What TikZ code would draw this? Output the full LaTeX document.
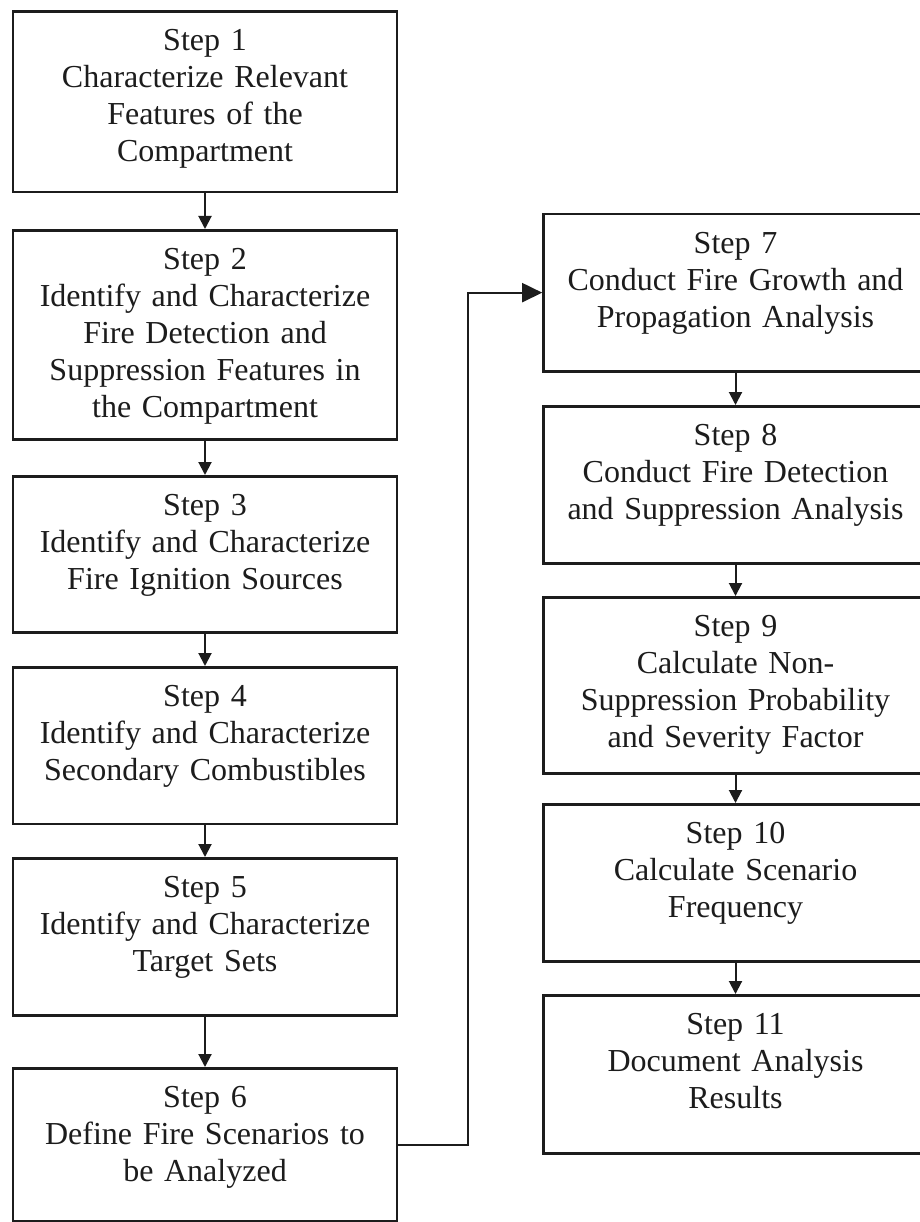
\documentclass[tikz,border=0pt]{standalone}
\usepackage{fontspec}
\setmainfont{Liberation Serif}
\usetikzlibrary{arrows.meta}
\definecolor{ink}{HTML}{1C1C1C}
\begin{document}
\begin{tikzpicture}[x=1pt, y=-1pt,
  stepbox/.style={draw=ink, line width=2.6pt, fill=white, text=ink,
    anchor=north, inner xsep=7pt, inner ysep=0pt, text width=370pt,
    align=center, text height=39.5pt,
    font=\fontsize{32}{37}\selectfont},
  flow/.style={draw=ink, line width=2pt, -{Triangle[length=13pt,width=13pt]}},
  bigflow/.style={draw=ink, line width=2pt, -{Triangle[length=20pt,width=19pt]}}]
  \useasboundingbox[fill=white] (0,0) rectangle (919,1222);

  % left column: steps 1 to 6
  \node[stepbox, text depth=141.2pt] (s1) at (205,10)
    {Step 1\\Characterize Relevant\\Features of the\\Compartment};
  \node[stepbox, text depth=169.5pt] (s2) at (205,229)
    {Step 2\\Identify and Characterize\\Fire Detection and\\Suppression Features in\\the Compartment};
  \node[stepbox, text depth=116.5pt] (s3) at (205,475)
    {Step 3\\Identify and Characterize\\Fire Ignition Sources};
  \node[stepbox, text depth=117.2pt] (s4) at (205,666)
    {Step 4\\Identify and Characterize\\Secondary Combustibles};
  \node[stepbox, text depth=117.5pt] (s5) at (205,857)
    {Step 5\\Identify and Characterize\\Target Sets};
  \node[stepbox, text depth=113.5pt] (s6) at (205,1067)
    {Step 6\\Define Fire Scenarios to\\be Analyzed};

  % right column: steps 7 to 11
  \node[stepbox, text depth=117.8pt] (s7) at (735.5,212.7)
    {Step 7\\Conduct Fire Growth and\\Propagation Analysis};
  \node[stepbox, text depth=117.5pt] (s8) at (735.5,405)
    {Step 8\\Conduct Fire Detection\\and Suppression Analysis};
  \node[stepbox, text depth=136.5pt] (s9) at (735.5,596)
    {Step 9\\Calculate Non-\\Suppression Probability\\and Severity Factor};
  \node[stepbox, text depth=117.5pt] (s10) at (735.5,803)
    {Step 10\\Calculate Scenario\\Frequency};
  \node[stepbox, text depth=118.5pt] (s11) at (735.5,994)
    {Step 11\\Document Analysis\\Results};

  % connectors
  \foreach \a/\b in {s1/s2, s2/s3, s3/s4, s4/s5, s5/s6, s7/s8, s8/s9, s9/s10, s10/s11}
    \draw[flow] (\a.south) -- (\b.north);
  \draw[bigflow] (s6.east) -- ++(70,0) |- (s7.west);
\end{tikzpicture}
\end{document}
